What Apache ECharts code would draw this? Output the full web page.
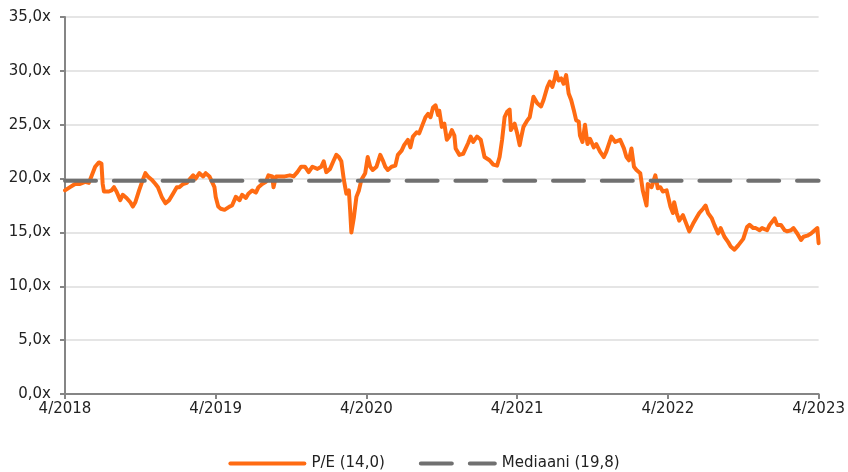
<!DOCTYPE html>
<html>
<head>
<meta charset="utf-8">
<script src="https://cdn.jsdelivr.net/npm/echarts@6/dist/echarts.min.js"></script>
<style>
html,body{margin:0;padding:0;background:#fff;overflow:hidden;}
#chart{width:848px;height:472px;}
</style>
</head>
<body>
<div id="chart"></div>
<script>
// months since 4/2018
const months = [0.0,0.4,0.8,1.2,1.6,1.9,2.1,2.4,2.7,2.9,3.0,3.1,3.5,3.7,3.9,4.1,4.4,4.6,4.9,5.2,5.4,5.6,5.9,6.2,6.4,6.6,6.9,7.2,7.4,7.7,8.0,8.3,8.6,8.9,9.1,9.4,9.7,9.9,10.2,10.4,10.7,11.0,11.2,11.5,11.9,12.0,12.2,12.4,12.7,13.1,13.3,13.6,13.9,14.1,14.4,14.6,14.9,15.2,15.4,15.7,16.0,16.2,16.5,16.6,16.8,17.2,17.5,17.9,18.2,18.5,18.8,19.1,19.4,19.7,20.1,20.4,20.6,20.8,21.1,21.4,21.6,21.8,22.0,22.2,22.4,22.6,22.7,22.8,23.0,23.2,23.4,23.6,23.9,24.1,24.3,24.5,24.8,25.1,25.3,25.5,25.7,26.0,26.3,26.5,26.8,27.0,27.3,27.5,27.7,28.0,28.2,28.5,28.7,28.9,29.1,29.3,29.5,29.7,29.8,30.0,30.2,30.4,30.6,30.8,31.0,31.1,31.4,31.7,32.1,32.3,32.5,32.8,33.1,33.4,33.8,34.1,34.4,34.6,34.8,35.0,35.2,35.4,35.5,35.8,36.0,36.2,36.3,36.5,36.8,37.0,37.3,37.6,37.9,38.1,38.4,38.6,38.8,39.0,39.1,39.3,39.5,39.7,39.9,40.1,40.3,40.5,40.7,40.9,41.0,41.2,41.4,41.6,41.8,42.1,42.3,42.6,42.9,43.1,43.5,43.8,44.2,44.5,44.7,44.9,45.1,45.3,45.5,45.8,46.0,46.3,46.4,46.7,47.0,47.2,47.4,47.6,47.9,48.2,48.4,48.5,48.7,48.9,49.2,49.5,49.7,50.0,50.3,50.5,50.8,51.0,51.2,51.5,51.7,52.0,52.2,52.5,52.8,53.0,53.3,53.6,53.8,54.0,54.3,54.5,54.8,55.0,55.3,55.5,55.9,56.1,56.3,56.5,56.7,57.0,57.3,57.5,57.8,58.0,58.3,58.6,58.8,59.1,59.4,59.6,59.9,60.0];
const pe = [18.9,19.2,19.5,19.5,19.7,19.6,20.2,21.1,21.5,21.4,19.5,18.8,18.8,18.9,19.2,18.8,18.0,18.5,18.2,17.8,17.4,17.8,18.9,19.9,20.5,20.2,19.9,19.5,19.2,18.3,17.7,18.0,18.6,19.2,19.2,19.5,19.6,19.9,20.3,20.0,20.5,20.2,20.5,20.2,19.2,18.3,17.4,17.2,17.1,17.4,17.5,18.3,18.0,18.5,18.2,18.6,18.9,18.7,19.2,19.5,19.7,20.3,20.2,19.2,20.2,20.2,20.2,20.3,20.2,20.6,21.1,21.1,20.6,21.1,20.9,21.1,21.6,20.6,20.9,21.7,22.2,22.0,21.6,19.9,18.6,18.9,17.1,15.0,16.4,18.3,18.9,19.9,20.5,22.0,21.1,20.8,21.1,22.2,21.7,21.1,20.8,21.1,21.2,22.2,22.6,23.1,23.6,22.9,23.9,24.3,24.2,25.1,25.7,26.0,25.7,26.6,26.8,25.9,26.3,24.8,25.1,23.6,23.9,24.5,24.0,22.8,22.2,22.3,23.3,23.9,23.4,23.9,23.6,22.0,21.7,21.3,21.2,22.0,23.6,25.7,26.2,26.4,24.5,25.1,24.2,23.1,23.7,24.8,25.4,25.7,27.6,27.0,26.7,27.3,28.5,29.0,28.5,29.3,29.9,29.1,29.3,28.8,29.6,27.9,27.3,26.4,25.4,25.3,24.0,23.4,25.0,23.2,23.7,22.9,23.2,22.5,22.0,22.5,23.9,23.4,23.6,22.8,22.0,21.7,22.8,21.1,20.8,20.5,18.9,17.5,19.5,19.2,20.3,19.1,19.2,18.8,18.9,17.4,16.8,17.8,16.8,16.1,16.6,15.7,15.1,15.8,16.4,16.8,17.2,17.5,16.8,16.3,15.7,14.9,15.4,14.6,14.1,13.7,13.4,13.8,14.1,14.4,15.5,15.7,15.4,15.4,15.2,15.4,15.2,15.7,16.0,16.3,15.7,15.7,15.2,15.1,15.2,15.4,14.9,14.3,14.6,14.7,14.9,15.1,15.4,14.0];
const medianValue = 19.8;
const xTickLabels = ['4/2018','4/2019','4/2020','4/2021','4/2022','4/2023'];
const seriesNames = ['P/E (14,0)', 'Mediaani (19,8)'];

const peData = months.map((m, i) => [m, pe[i]]);
const medData = [[months[0], medianValue], [months[months.length - 1], medianValue]];

const solidIcon = 'path://M2,0H76A2,2,0,0,1,76,4H2A2,2,0,0,1,2,0Z';
const dashIcon = 'path://M2,0H33A2,2,0,0,1,33,4H2A2,2,0,0,1,2,0Z M51,0H76A2,2,0,0,1,76,4H51A2,2,0,0,1,51,0Z';

const font = 'DejaVu Sans';
const chart = echarts.init(document.getElementById('chart'), null, {renderer: 'canvas', width: 848, height: 472});
chart.setOption({
  animation: false,
  backgroundColor: '#ffffff',
  grid: {left: 65, right: 25, top: 17, bottom: 78, containLabel: false},
  legend: {
    top: 451,
    left: 'center',
    itemWidth: 78,
    itemHeight: 4,
    itemGap: 34,
    textStyle: {fontFamily: font, fontSize: 15, color: '#222'},
    data: [
      {name: seriesNames[0], icon: solidIcon},
      {name: seriesNames[1], icon: dashIcon}
    ]
  },
  xAxis: {
    type: 'value',
    min: 0, max: 60, interval: 12,
    axisLine: {show: true, lineStyle: {color: '#858585', width: 2}},
    axisTick: {show: true, length: 5, lineStyle: {color: '#858585', width: 2}},
    axisLabel: {
      margin: 8, fontFamily: font, fontSize: 15, color: '#222',
      formatter: v => xTickLabels[Math.round(v / 12)]
    },
    splitLine: {show: false}
  },
  yAxis: {
    type: 'value',
    min: 0, max: 35, interval: 5,
    axisLine: {show: true, lineStyle: {color: '#858585', width: 2}},
    axisTick: {show: true, length: 5, lineStyle: {color: '#858585', width: 2}},
    axisLabel: {
      margin: 14, fontFamily: font, fontSize: 15, color: '#222',
      formatter: v => v.toFixed(1).replace('.', ',') + 'x'
    },
    splitLine: {show: true, lineStyle: {color: '#dcdcdc', width: 1.5}}
  },
  series: [
    {
      name: seriesNames[0],
      type: 'line',
      data: peData,
      showSymbol: false,
      symbol: 'none',
      z: 2,
      lineStyle: {color: '#ff6b12', width: 4, join: 'round', cap: 'round'},
      itemStyle: {color: '#ff6b12'}
    },
    {
      name: seriesNames[1],
      type: 'line',
      data: medData,
      showSymbol: false,
      symbol: 'none',
      z: 3,
      lineStyle: {color: '#707070', width: 4, type: [31, 17.8], cap: 'round'},
      itemStyle: {color: '#707070'}
    }
  ]
});
</script>
</body>
</html>
